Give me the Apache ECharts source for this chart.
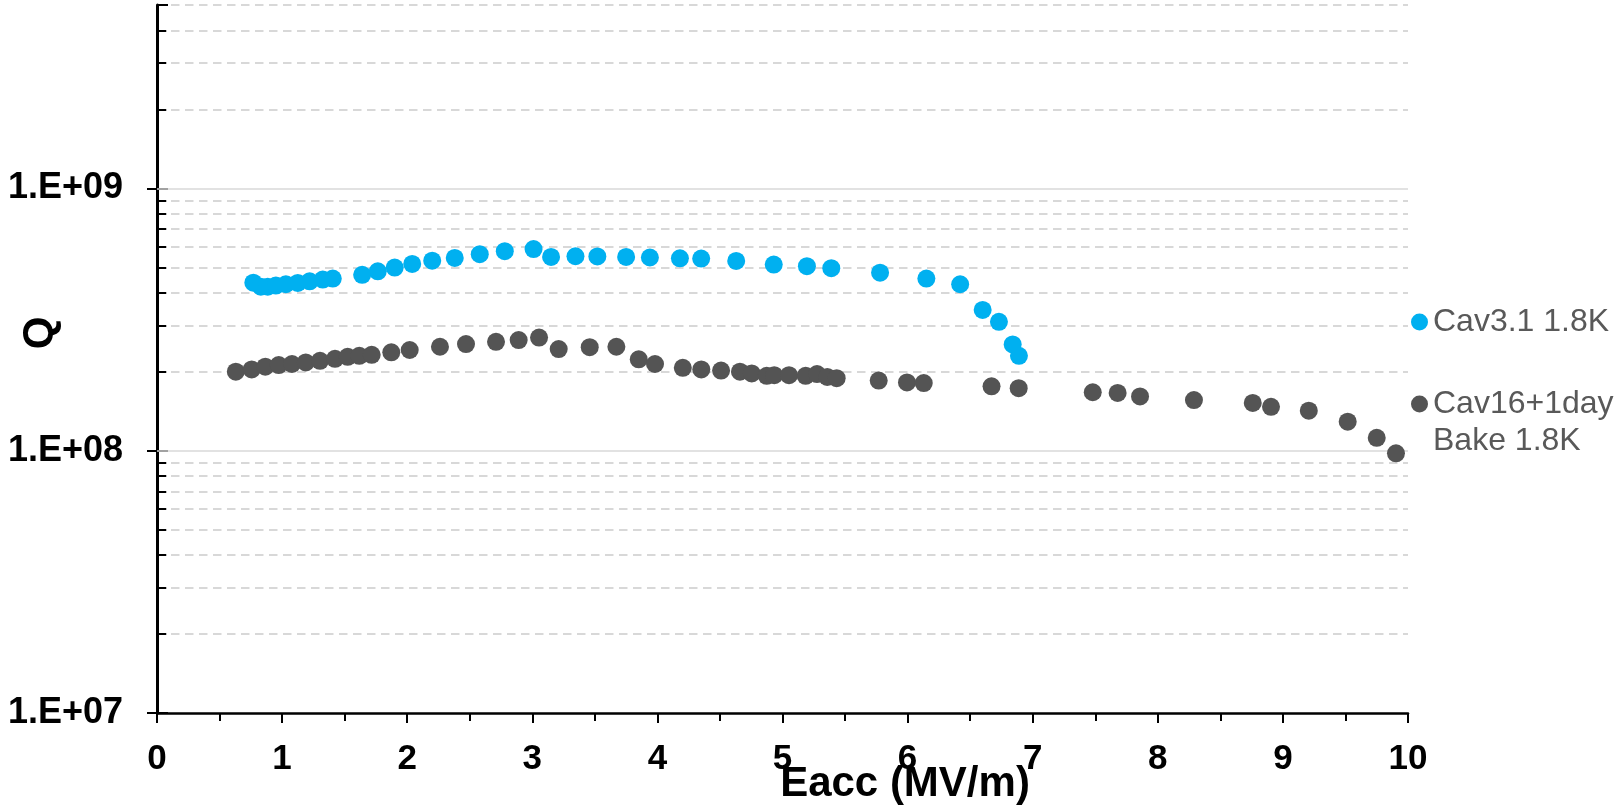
<!DOCTYPE html>
<html>
<head>
<meta charset="utf-8">
<script src="https://cdn.jsdelivr.net/npm/echarts@6/dist/echarts.min.js"></script>
<style>
html,body{margin:0;padding:0;background:#fff;}
#chart{width:1618px;height:807px;}
</style>
</head>
<body>
<div id="chart"></div>
<script>
// ---- data ----
const seriesNames = ['Cav3.1 1.8K', 'Cav16+1day Bake 1.8K'];
const cav3X = [0.77,0.83,0.885,0.95,1.03,1.125,1.22,1.325,1.405,1.64,1.765,1.90,2.04,2.20,2.38,2.58,2.78,3.01,3.15,3.345,3.52,3.75,3.94,4.18,4.35,4.63,4.93,5.195,5.39,5.78,6.15,6.42,6.60,6.73,6.84,6.89];
const cav3Q = [4.37e8,4.22e8,4.22e8,4.26e8,4.31e8,4.36e8,4.42e8,4.49e8,4.53e8,4.68e8,4.83e8,4.99e8,5.15e8,5.30e8,5.43e8,5.61e8,5.76e8,5.87e8,5.48e8,5.51e8,5.50e8,5.48e8,5.45e8,5.41e8,5.40e8,5.29e8,5.12e8,5.05e8,4.96e8,4.77e8,4.53e8,4.31e8,3.44e8,3.10e8,2.54e8,2.30e8];
const cav16X = [0.63,0.757,0.866,0.973,1.079,1.189,1.303,1.423,1.524,1.617,1.716,1.873,2.02,2.262,2.47,2.71,2.891,3.054,3.211,3.459,3.672,3.851,3.981,4.203,4.351,4.509,4.66,4.754,4.874,4.934,5.052,5.185,5.276,5.358,5.433,5.769,5.995,6.129,6.671,6.888,7.48,7.679,7.858,8.289,8.759,8.905,9.207,9.518,9.75,9.904];
const cav16Q = [2.00e8,2.04e8,2.09e8,2.12e8,2.14e8,2.17e8,2.20e8,2.24e8,2.28e8,2.30e8,2.32e8,2.37e8,2.42e8,2.49e8,2.55e8,2.60e8,2.64e8,2.70e8,2.44e8,2.48e8,2.49e8,2.23e8,2.14e8,2.07e8,2.04e8,2.02e8,2.00e8,1.97e8,1.93e8,1.94e8,1.94e8,1.93e8,1.96e8,1.91e8,1.89e8,1.85e8,1.82e8,1.81e8,1.76e8,1.73e8,1.67e8,1.66e8,1.61e8,1.56e8,1.52e8,1.47e8,1.42e8,1.29e8,1.12e8,9.77e7];
const majorGrid = [1e8, 1e9];
const minorGrid = [2e7,3e7,4e7,5e7,6e7,7e7,8e7,9e7,2e8,3e8,4e8,5e8,6e8,7e8,8e8,9e8,2e9,3e9,4e9,5e9];
const yLabelMap = {'10000000':'1.E+07','100000000':'1.E+08','1000000000':'1.E+09'};
const xTitle = 'Eacc (MV/m)';
const yTitle = 'Q';

// ---- chart ----
const FONT = '"Liberation Sans", Arial, Helvetica, sans-serif';
const chart = echarts.init(document.getElementById('chart'), null, {renderer:'canvas'});

const zip = (xs, ys) => xs.map((x, i) => [x, ys[i]]);

const gridLineData = majorGrid.map(v => ({yAxis: v, lineStyle:{color:'#d9d9d9', width:1.5, type:'solid'}}))
  .concat(minorGrid.map(v => ({yAxis: v, lineStyle:{color:'#cccccc', width:1.6, type:[8.5,5.5]}})));
const minorTickData = minorGrid.map(v => [{coord:[0, v]}, {coord:[0.074, v]}]);

const option = {
  animation: false,
  backgroundColor: '#fff',
  grid: [
    {left:157, right:210, top:5, bottom:94, containLabel:false},
    {left:157, right:210, top:188.4, bottom:94, containLabel:false}
  ],
  xAxis: [
    {
      type:'value', gridIndex:0, min:0, max:10, interval:1,
      axisLine:{show:true, onZero:false, lineStyle:{color:'#000', width:2.5}},
      axisTick:{show:true, inside:false, length:10, lineStyle:{color:'#000', width:2}},
      minorTick:{show:true, splitNumber:2, length:8, lineStyle:{color:'#000', width:2}},
      axisLabel:{show:true, margin:29, color:'#000', fontSize:35, fontWeight:'bold', fontFamily:FONT},
      splitLine:{show:false}
    },
    {type:'value', gridIndex:1, min:0, max:10, show:false}
  ],
  yAxis: [
    {
      type:'log', gridIndex:0, logBase:10, min:1e7, max:5e9, interval:1,
      axisLine:{show:true, lineStyle:{color:'#000', width:3}},
      axisTick:{show:true, inside:true, length:11, lineStyle:{color:'#000', width:2}},
      axisLabel:{show:false},
      splitLine:{show:false}
    },
    {
      type:'log', gridIndex:1, logBase:10, min:1e7, max:1e9, interval:1,
      axisLine:{show:false},
      axisTick:{show:true, inside:false, length:10, lineStyle:{color:'#000', width:2}},
      axisLabel:{show:true, margin:34, color:'#000', fontSize:36, fontWeight:'bold', fontFamily:FONT,
        formatter: v => yLabelMap[String(Math.round(v))] || ''},
      splitLine:{show:false}
    }
  ],
  legend: [
    {
      data:[seriesNames[0]], orient:'vertical', left:1411, top:304, padding:0, itemGap:0,
      itemWidth:17, itemHeight:17, icon:'circle', selectedMode:false,
      textStyle:{fontSize:32, color:'#595959', fontFamily:FONT, lineHeight:36}
    },
    {
      data:[seriesNames[1]], orient:'vertical', left:1411, top:348.5, padding:0, itemGap:0,
      itemWidth:17, itemHeight:17, icon:'circle', selectedMode:false,
      formatter: () => '\nCav16+1day\nBake 1.8K',
      textStyle:{fontSize:32, color:'#595959', fontFamily:FONT, lineHeight:37}
    }
  ],
  graphic: [
    {type:'text', x:905, y:784, z:10,
      style:{text:xTitle, font:'bold 42px ' + FONT, fill:'#000', align:'center', verticalAlign:'middle', textAlign:'center', textVerticalAlign:'middle'}},
    {type:'text', x:40, y:333, rotation:Math.PI/2, z:10,
      style:{text:yTitle, font:'bold 42px ' + FONT, fill:'#000', align:'center', verticalAlign:'middle', textAlign:'center', textVerticalAlign:'middle'}}
  ],
  series: [
    {
      name:'gridlines', type:'line', data:[], xAxisIndex:0, yAxisIndex:0, silent:true, z:0,
      markLine:{silent:true, z:1, symbol:['none','none'], label:{show:false}, emphasis:{disabled:true}, animation:false, data:gridLineData}
    },
    {
      name:'minorticks', type:'line', data:[], xAxisIndex:0, yAxisIndex:0, silent:true, z:3,
      markLine:{silent:true, z:6, symbol:['none','none'], label:{show:false}, emphasis:{disabled:true}, animation:false,
        lineStyle:{color:'#000', width:2, type:'solid'}, data:minorTickData}
    },
    {
      name:seriesNames[0], type:'scatter', xAxisIndex:0, yAxisIndex:0, z:2,
      symbol:'circle', symbolSize:18, itemStyle:{color:'#00B0F0', opacity:1},
      data: zip(cav3X, cav3Q)
    },
    {
      name:seriesNames[1], type:'scatter', xAxisIndex:0, yAxisIndex:0, z:2,
      symbol:'circle', symbolSize:18, itemStyle:{color:'#545454', opacity:1},
      data: zip(cav16X, cav16Q)
    }
  ]
};
chart.setOption(option);
</script>
</body>
</html>
